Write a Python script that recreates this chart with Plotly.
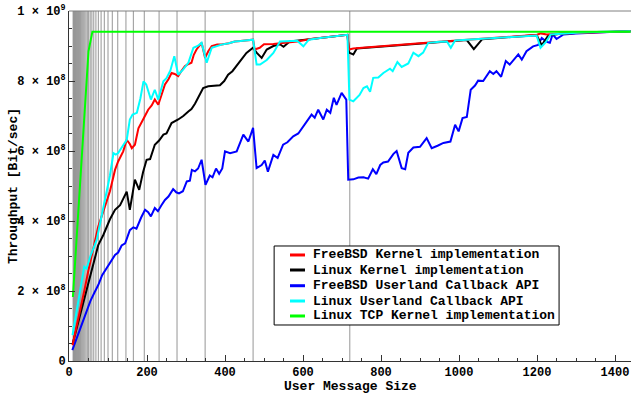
import plotly.graph_objects as go

# ---------------- data (throughput in units of 1e8 Bit/sec) ----------------
series_names = [
    "FreeBSD Kernel implementation",
    "Linux Kernel implementation",
    "FreeBSD Userland Callback API",
    "Linux Userland Callback API",
    "Linux TCP Kernel implementation",
]
series_colors = ["#ff0000", "#000000", "#0000ff", "#00ffff", "#00ff00"]

freebsd_kernel_x = [9, 20, 30, 40, 50, 60, 67, 75, 92, 105, 118, 126, 139, 148, 156, 161, 169, 178, 191,
                    203, 212, 220, 229, 238, 246, 255, 263, 271, 280, 289, 297, 305, 314, 320, 327, 340,
                    349, 357, 366, 380, 391, 410, 425, 440, 455, 472, 476, 489, 500, 524, 560, 585, 620,
                    644, 680, 714, 718, 729, 760, 800, 850, 900, 950, 1000, 1050, 1100, 1150, 1200, 1210,
                    1225, 1260, 1300, 1350, 1400, 1440]
freebsd_kernel_y = [0.45, 1.0, 1.5, 2.05, 2.6, 3.1, 3.46, 3.84, 4.41, 4.85, 5.46, 5.7, 5.99, 6.32, 6.2, 6.08,
                    6.18, 6.65, 6.92, 7.18, 7.3, 7.47, 7.32, 7.6, 7.9, 8.05, 8.23, 8.2, 8.14, 8.3, 8.42,
                    8.48, 8.52, 8.75, 8.9, 9.09, 8.66, 8.85, 9.0, 9.04, 9.04, 9.08, 9.13, 9.14, 9.16, 9.18,
                    8.9, 8.95, 9.05, 9.06, 9.1, 9.13, 9.2, 9.23, 9.27, 9.32, 8.9, 8.93, 8.96, 9.0, 9.04,
                    9.08, 9.12, 9.16, 9.2, 9.24, 9.28, 9.32, 9.36, 9.33, 9.36, 9.38, 9.4, 9.41, 9.42]

linux_kernel_x = [9, 20, 30, 40, 50, 60, 75, 88, 96, 105, 118, 131, 148, 156, 169, 180, 190, 199, 208,
                  220, 231, 242, 250, 263, 280, 293, 306, 314, 323, 332, 344, 357, 370, 387, 398, 408,
                  419, 438, 455, 472, 481, 494, 507, 524, 541, 550, 566, 600, 644, 680, 714, 718, 729,
                  738, 800, 850, 900, 950, 1000, 1020, 1038, 1059, 1100, 1150, 1199, 1212, 1229, 1260,
                  1300, 1350, 1400, 1440]
linux_kernel_y = [0.48, 0.95, 1.4, 1.85, 2.3, 2.7, 3.31, 3.6, 3.8, 4.05, 4.32, 4.45, 4.84, 4.32, 5.18,
                  4.89, 5.4, 5.75, 5.77, 6.18, 6.3, 6.47, 6.5, 6.8, 6.9, 7.0, 7.13, 7.2, 7.35, 7.56, 7.8,
                  7.85, 7.87, 7.88, 8.0, 8.18, 8.28, 8.57, 8.8, 8.95, 8.81, 8.66, 8.9, 9.0, 9.05, 8.98,
                  9.13, 9.17, 9.23, 9.27, 9.32, 8.81, 8.76, 8.93, 8.98, 9.03, 9.07, 9.11, 9.15, 9.17,
                  8.91, 9.19, 9.23, 9.27, 9.31, 9.02, 9.3, 9.35, 9.38, 9.4, 9.41, 9.42]

freebsd_user_x = [8.5, 20, 30, 41, 55, 65, 75, 85, 95, 105, 118, 126, 135, 144, 150, 156, 165, 173, 185,
                  195, 203, 210, 220, 228, 237, 246, 255, 267, 275, 282, 292, 302, 310, 315, 323, 331,
                  340, 350, 361, 368, 377, 385, 393, 400, 413, 430, 447, 460, 472, 481, 494, 502, 510,
                  524, 535, 549, 560, 575, 588, 601, 612, 622, 630, 639, 652, 661, 670, 679, 686, 699,
                  711, 716, 729, 742, 755, 767, 779, 788, 798, 806, 818, 832, 840, 853, 862, 870, 883,
                  900, 917, 930, 945, 960, 978, 990, 999, 1009, 1020, 1030, 1041, 1049, 1062, 1079, 1088,
                  1096, 1108, 1120, 1130, 1152, 1161, 1173, 1190, 1203, 1212, 1225, 1233, 1240, 1250,
                  1268, 1300, 1350, 1400, 1440]
freebsd_user_y = [0.31, 0.66, 0.98, 1.31, 1.72, 1.95, 2.17, 2.45, 2.62, 2.8, 3.03, 3.1, 3.3, 3.36, 3.55,
                  3.74, 3.82, 3.78, 4.1, 4.32, 4.25, 4.13, 4.37, 4.28, 4.45, 4.6, 4.7, 4.91, 4.82, 4.79,
                  4.85, 5.13, 5.15, 5.46, 5.42, 5.5, 5.75, 5.03, 5.3, 5.25, 5.5, 5.35, 5.5, 5.99, 5.94,
                  5.99, 6.47, 6.27, 6.66, 5.51, 5.6, 5.73, 5.41, 5.89, 5.8, 6.18, 6.25, 6.42, 6.5, 6.7,
                  6.85, 7.04, 6.95, 7.18, 6.9, 7.18, 7.09, 7.52, 7.32, 7.66, 7.47, 5.18, 5.19, 5.24,
                  5.25, 5.21, 5.48, 5.34, 5.6, 5.67, 5.7, 5.92, 6.0, 5.51, 5.48, 5.95, 6.1, 6.12, 6.37,
                  6.08, 6.15, 6.23, 6.27, 6.75, 6.56, 6.94, 6.97, 7.75, 7.87, 8.01, 8.0, 8.28, 8.2, 8.28,
                  8.12, 8.57, 8.47, 8.76, 8.61, 8.85, 8.99, 9.03, 9.23, 9.12, 9.09, 9.33, 9.2, 9.33,
                  9.36, 9.39, 9.41, 9.42]

linux_user_x = [9, 20, 30, 39, 45, 55, 71, 80, 92, 105, 114, 120, 126, 139, 148, 156, 163, 174, 183,
                191, 198, 210, 220, 229, 242, 250, 260, 270, 280, 293, 306, 319, 330, 340, 353, 366,
                380, 391, 410, 425, 440, 455, 472, 481, 490, 507, 524, 541, 560, 585, 601, 615, 644,
                680, 714, 719, 729, 745, 755, 764, 772, 780, 793, 806, 823, 830, 842, 853, 870, 883,
                896, 908, 921, 950, 969, 979, 990, 1050, 1100, 1150, 1199, 1209, 1222, 1235, 1260,
                1300, 1350, 1400, 1440]
linux_user_y = [0.74, 1.45, 2.05, 2.69, 2.64, 3.0, 3.46, 3.95, 4.6, 5.3, 5.94, 5.9, 5.94, 6.15, 6.32,
                6.9, 7.04, 7.09, 7.5, 7.99, 7.9, 7.47, 7.75, 7.47, 7.99, 8.08, 8.3, 8.71, 8.18, 8.33,
                8.52, 8.95, 9.0, 9.09, 8.52, 8.95, 9.0, 9.04, 9.08, 9.13, 9.14, 9.16, 9.18, 8.47, 8.47,
                8.6, 8.8, 9.13, 9.14, 9.15, 8.99, 9.18, 9.23, 9.27, 9.32, 7.47, 7.42, 7.6, 7.8, 7.85,
                7.69, 8.09, 8.1, 8.23, 8.35, 8.28, 8.54, 8.4, 8.5, 8.81, 8.71, 8.81, 9.09, 9.12, 9.13,
                8.95, 9.16, 9.2, 9.24, 9.28, 9.3, 8.95, 9.1, 9.33, 9.35, 9.38, 9.4, 9.41, 9.42]

linux_tcp_x = [10, 20, 30, 40, 50, 60, 200, 400, 600, 800, 1000, 1200, 1440]
linux_tcp_y = [1.83, 3.6, 5.35, 7.1, 8.85, 9.41, 9.41, 9.41, 9.41, 9.41, 9.41, 9.41, 9.41]

# vertical reference lines (message sizes)
vline_x = [720, 472, 349, 277, 231, 193, 165, 146, 125, 111, 100, 90.5, 82.3, 75.2, 69, 63.5, 58.7,
           54.3, 50.4, 46.9, 43.6, 40.7, 38, 35.5, 33.2, 31.1, 29.1, 27.3, 25.6, 24, 22.5, 21.1,
           19.8, 18.5, 17.3, 16.2, 15.2, 14.2, 13.2, 12.3, 11.4, 10.6]

y_tick_vals = [0, 2e8, 4e8, 6e8, 8e8, 1e9]
y_tick_text = ["0", "2 × 10<sup>8</sup>", "4 × 10<sup>8</sup>", "6 × 10<sup>8</sup>",
               "8 × 10<sup>8</sup>", "1 × 10<sup>9</sup>"]
x_tick_vals = [0, 200, 400, 600, 800, 1000, 1200, 1400]

UNIT = 1e8
FONT = "Liberation Mono"

fig = go.Figure()

# vertical lines as one trace with gaps
vx, vy = [], []
for v in vline_x:
    vx += [v, v, None]
    vy += [0, 1e9, None]
fig.add_trace(go.Scatter(x=vx, y=vy, mode="lines", line=dict(color="#969696", width=1),
                         showlegend=False, hoverinfo="skip"))

all_x = [freebsd_kernel_x, linux_kernel_x, freebsd_user_x, linux_user_x, linux_tcp_x]
all_y = [freebsd_kernel_y, linux_kernel_y, freebsd_user_y, linux_user_y, linux_tcp_y]
order = [2, 1, 0, 3, 4]
for i in order:
    fig.add_trace(go.Scatter(x=all_x[i], y=[v * UNIT for v in all_y[i]], mode="lines",
                             line=dict(color=series_colors[i], width=2), name=series_names[i],
                             showlegend=False))

# custom legend
L_left, L_right, L_top, L_bot = 0.365, 0.872, 0.3286, 0.1029
row_y = [0.3029, 0.2600, 0.2151, 0.1714, 0.1286]
shapes = [dict(type="rect", xref="paper", yref="paper", x0=L_left, x1=L_right, y0=L_bot, y1=L_top,
               line=dict(color="black", width=1), fillcolor="white", layer="above")]
annotations = []
for name, col, ry in zip(series_names, series_colors, row_y):
    shapes.append(dict(type="line", xref="paper", yref="paper", x0=0.3932, x1=0.4199, y0=ry, y1=ry,
                       line=dict(color=col, width=3), layer="above"))
    annotations.append(dict(xref="paper", yref="paper", x=0.4306, y=ry, xanchor="left", yanchor="middle",
                            text=name, showarrow=False,
                            font=dict(family=FONT, size=13, color="black", weight="bold")))

# top frame line
shapes.append(dict(type="line", xref="paper", yref="paper", x0=0, x1=1, y0=1, y1=1,
                   line=dict(color="#808080", width=1)))

annotations.append(dict(xref="paper", yref="paper", x=0.5, y=-0.074, xanchor="center", yanchor="middle",
                        text="User Message Size", showarrow=False,
                        font=dict(family=FONT, size=13, color="black", weight="bold")))
annotations.append(dict(xref="paper", yref="paper", x=-0.0996, y=0.5, xanchor="center", yanchor="middle",
                        text="Throughput [Bit/sec]", showarrow=False, textangle=-90,
                        font=dict(family=FONT, size=13, color="black", weight="bold")))

fig.update_layout(
    width=631, height=399,
    margin=dict(l=69, r=0, t=11, b=38),
    paper_bgcolor="white", plot_bgcolor="white",
    showlegend=False,
    shapes=shapes, annotations=annotations,
    font=dict(family=FONT, size=12, color="black", weight="bold"),
)
fig.update_xaxes(range=[0, 1441], tickvals=x_tick_vals, ticks="inside", ticklen=6, tickwidth=1,
                 tickcolor="#333", showgrid=False, zeroline=False, showline=True, linecolor="#333",
                 linewidth=1, minor=dict(dtick=50, ticks="inside", ticklen=3, tickcolor="#333"),
                 ticklabeloverflow="allow",
                 tickfont=dict(family=FONT, size=12, weight="bold"))
fig.update_yaxes(range=[0, 1e9], tickvals=y_tick_vals, ticktext=y_tick_text, ticks="inside", ticklen=6,
                 tickwidth=1, tickcolor="#333", showgrid=False, zeroline=False, showline=True,
                 linecolor="#333", linewidth=1,
                 minor=dict(dtick=5e7, tick0=0, ticks="inside", ticklen=3, tickcolor="#333"),
                 ticklabeloverflow="allow",
                 tickfont=dict(family=FONT, size=12, weight="bold"))

# remove the browser's default 8px body margin so the figure fills the window exactly
fig.write_html("out.html", config={"displayModeBar": False},
               post_script="document.body.style.margin='0';")
